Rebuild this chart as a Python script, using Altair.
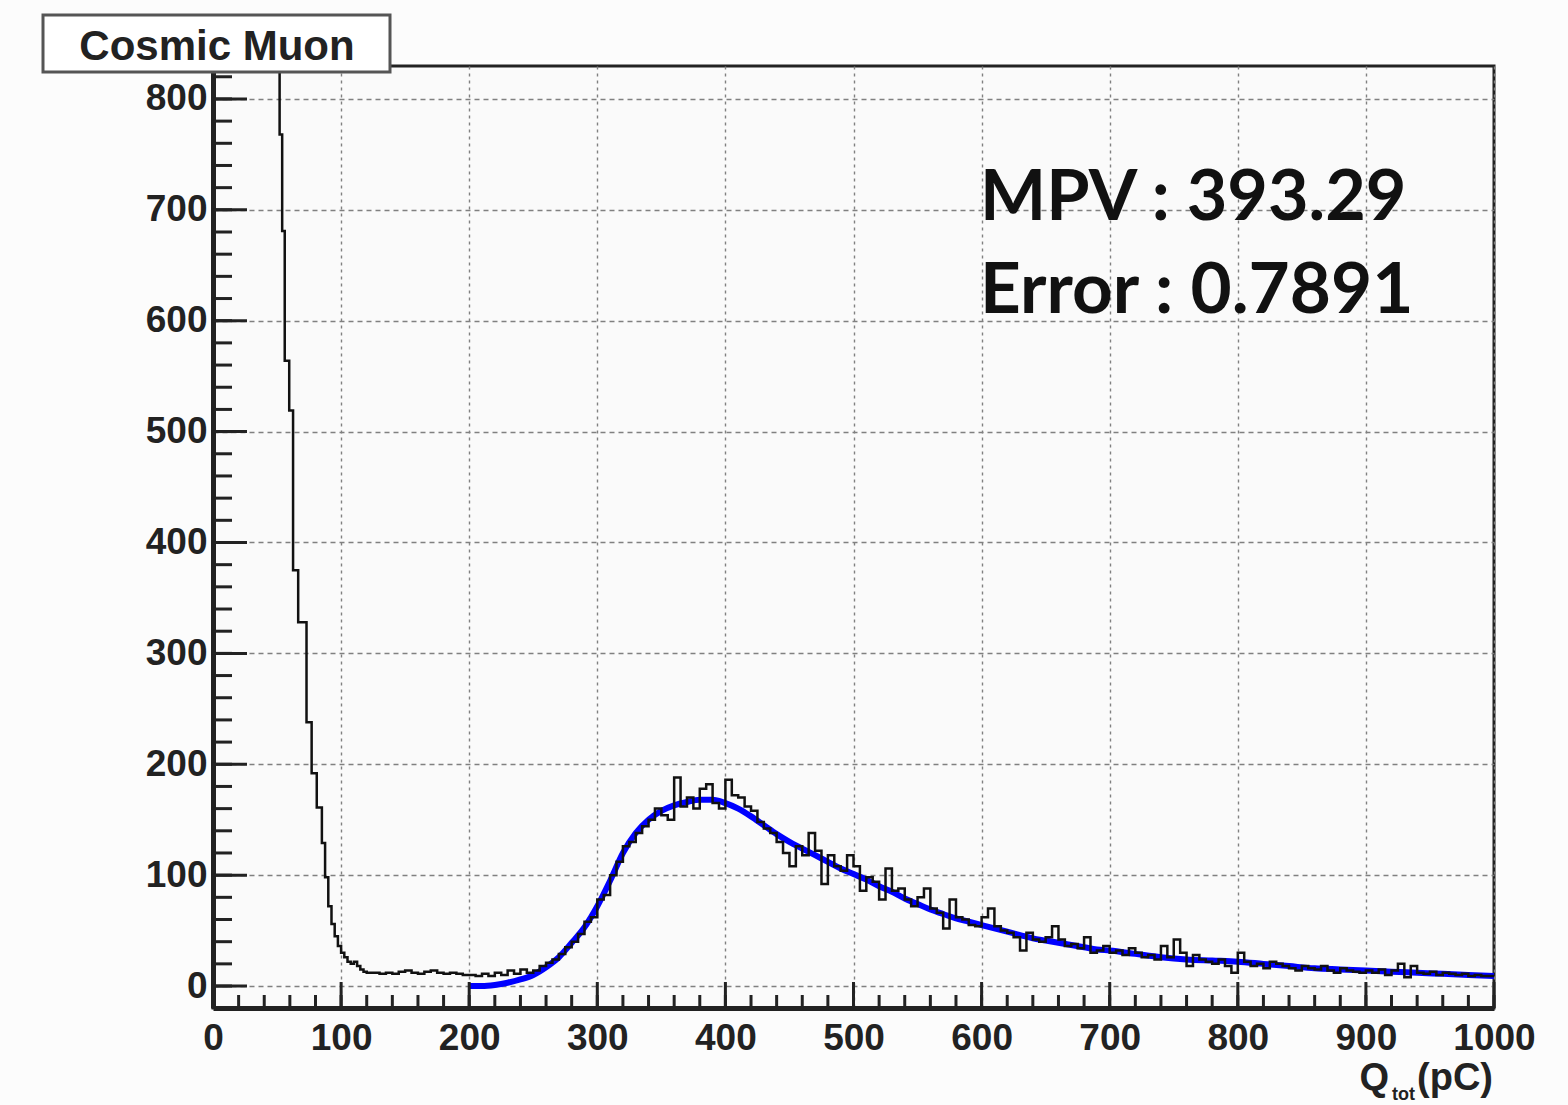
import altair as alt
import pandas as pd

# ---------------- data ----------------
# steep pedestal part of the histogram (bin low edge, count)
STEEP_X = [40, 52, 54, 56, 59.5, 62.5, 66.5, 73, 77, 81, 85, 87.5, 90, 92.5, 95,
           97.5, 100, 102.5, 105, 107.5, 110, 112.5, 115, 117.5, 120]
STEEP_COUNTS = [2000, 768, 681, 564, 519, 375, 328, 238, 192, 161, 129, 98, 72, 56, 45,
                36, 30, 26, 22, 20, 22, 18, 15, 13, 12]

# 5 pC bins from 125 to 1000
BIN_START = 125
BIN_WIDTH = 5
HIST_COUNTS = [
    12, 11, 12, 11, 13, 14, 12, 11, 13, 14,      # 125-170
    12, 11, 12, 11, 10, 10, 9, 11, 9, 12,        # 175-220
    10, 14, 11, 15, 12, 14, 18, 21, 24, 29,      # 225-270
    35, 40, 47, 58, 62, 78, 82, 100, 112, 126,   # 275-320
    130, 138, 144, 150, 160, 154, 150, 188, 162, 170,  # 325-370
    160, 178, 182, 165, 160, 186, 172, 170, 162, 158,  # 375-420
    148, 142, 138, 130, 120, 108, 126, 118, 138, 122,  # 425-470
    92, 118, 108, 104, 118, 108, 86, 98, 94, 78,       # 475-520
    106, 86, 88, 78, 72, 80, 88, 70, 66, 52,           # 525-570
    78, 62, 60, 55, 54, 62, 70, 54, 50, 48,            # 575-620
    44, 32, 48, 42, 40, 44, 54, 42, 36, 38,            # 625-670
    34, 44, 30, 32, 36, 30, 32, 28, 34, 30,            # 675-720
    26, 28, 24, 36, 26, 42, 30, 18, 28, 24,            # 725-770
    22, 20, 24, 18, 12, 30, 22, 18, 20, 16,            # 775-820
    22, 20, 18, 16, 14, 18, 16, 15, 18, 14,            # 825-870
    12, 16, 14, 13, 12, 14, 12, 15, 10, 14,            # 875-920
    20, 8, 18, 12, 11, 13, 10, 12, 11, 10,             # 925-970
    11, 9, 10, 9, 9, 9,                                # 975-1000
]

# Landau fit curve (blue)
FIT_X = [200, 210, 220, 230, 240, 250, 260, 270, 280, 290, 300, 310, 320, 330, 340,
         350, 360, 370, 380, 390, 400, 410, 420, 430, 440, 450, 460, 470, 480, 490,
         500, 510, 520, 530, 540, 550, 560, 570, 580, 590, 600, 610, 620, 630, 640,
         650, 660, 670, 680, 690, 700, 720, 740, 760, 780, 800, 820, 840, 860, 880,
         900, 920, 940, 960, 980, 1000]
FIT_Y = [0, 0, 1, 3, 6, 10, 17, 26, 39, 53, 72, 95, 120, 138, 150,
         158, 163, 166, 168, 168, 165, 160, 153, 145, 137, 130, 124, 118, 112, 106,
         101, 96, 90, 85, 79, 74, 69, 65, 61, 58, 55, 52, 49, 46, 43,
         41, 39, 37, 35, 33, 32, 29, 26, 24, 23, 22, 20, 18, 16, 15,
         14, 13, 12, 11, 10, 9]

X_MAJOR = [0, 100, 200, 300, 400, 500, 600, 700, 800, 900, 1000]
Y_MAJOR = [0, 100, 200, 300, 400, 500, 600, 700, 800]
X_MINOR = list(range(0, 1001, 20))
Y_MINOR = list(range(0, 821, 20))

TITLE = "Cosmic Muon"
MPV_TEXT = "MPV : 393.29"
ERR_TEXT = "Error : 0.7891"

# ---------------- build ----------------
W, H = 1281, 942
hx = STEEP_X + [BIN_START + i * BIN_WIDTH for i in range(len(HIST_COUNTS))]
hy = STEEP_COUNTS + HIST_COUNTS
hist_df = pd.DataFrame({"q": hx, "n": hy})
fit_df = pd.DataFrame({"q": FIT_X, "n": FIT_Y})

xs = alt.Scale(domain=[0, 1000], nice=False, zero=False)
ys = alt.Scale(domain=[-19.8, 829.7], nice=False, zero=False)

LABEL_FONT = "Liberation Sans"

AX_X = alt.Axis(
    values=X_MAJOR, format="d", grid=True, gridDash=[3, 4], gridColor="#808080", gridWidth=1.4,
    ticks=False, domainColor="#222222", domainWidth=5, labelFont=LABEL_FONT,
    labelFontSize=37, labelFontWeight="bold", labelColor="#222222", labelPadding=12,
    labelOverlap=False, labelBound=False, labelFlush=False, title=None)
AX_Y = alt.Axis(
    values=Y_MAJOR, format="d", grid=True, gridDash=[5, 4], gridColor="#808080", gridWidth=1.4,
    ticks=False, domainColor="#222222", domainWidth=5, labelFont=LABEL_FONT,
    labelFontSize=37, labelFontWeight="bold", labelColor="#222222", labelPadding=6,
    labelOverlap=False, labelBound=False, labelFlush=False, title=None)

fit = alt.Chart(fit_df).mark_line(
    interpolate="monotone", color="#0000ff", strokeWidth=6, clip=True
).encode(
    x=alt.X("q:Q", scale=xs, axis=AX_X),
    y=alt.Y("n:Q", scale=ys, axis=AX_Y),
)

hist = alt.Chart(hist_df).mark_line(
    interpolate="step-after", color="#111111", strokeWidth=2.5, clip=True
).encode(
    x=alt.X("q:Q", scale=xs, axis=AX_X),
    y=alt.Y("n:Q", scale=ys, axis=AX_Y),
)

ymaj = alt.Chart(pd.DataFrame({"n": Y_MAJOR})).mark_rule(color="#222222", strokeWidth=3).encode(
    y=alt.Y("n:Q", scale=ys, axis=AX_Y), x=alt.value(0), x2=alt.value(34))
ymin = alt.Chart(pd.DataFrame({"n": Y_MINOR})).mark_rule(color="#222222", strokeWidth=3).encode(
    y=alt.Y("n:Q", scale=ys, axis=AX_Y), x=alt.value(0), x2=alt.value(19))
xmaj = alt.Chart(pd.DataFrame({"q": X_MAJOR})).mark_rule(color="#222222", strokeWidth=3).encode(
    x=alt.X("q:Q", scale=xs, axis=AX_X), y=alt.value(H), y2=alt.value(H - 26))
xmin = alt.Chart(pd.DataFrame({"q": X_MINOR})).mark_rule(color="#222222", strokeWidth=3).encode(
    x=alt.X("q:Q", scale=xs, axis=AX_X), y=alt.value(H), y2=alt.value(H - 13))

one = pd.DataFrame({"k": [0]})
title_box = alt.Chart(one).mark_rect(
    fill="#ffffff", stroke="#555555", strokeWidth=3, clip=False
).encode(x=alt.value(-170), x2=alt.value(177), y=alt.value(-51), y2=alt.value(6))
title_txt = alt.Chart(one).mark_text(
    text=TITLE, font=LABEL_FONT, fontSize=42, fontWeight="bold", color="#222222",
    align="center", baseline="middle", clip=False
).encode(x=alt.value(4), y=alt.value(-19))

mpv = alt.Chart(one).mark_text(
    text=MPV_TEXT, font="Lato", fontSize=70, fontWeight="bold", color="#111111",
    align="left", baseline="alphabetic"
).encode(x=alt.value(767), y=alt.value(154))
err = alt.Chart(one).mark_text(
    text=ERR_TEXT, font="Lato", fontSize=71, fontWeight="bold", color="#111111",
    align="left", baseline="alphabetic"
).encode(x=alt.value(767), y=alt.value(247))

xt_q = alt.Chart(one).mark_text(
    text="Q", font=LABEL_FONT, fontSize=38, fontWeight="bold", color="#222222",
    align="right", baseline="alphabetic", clip=False
).encode(x=alt.value(1176), y=alt.value(1024))
xt_sub = alt.Chart(one).mark_text(
    text="tot", font=LABEL_FONT, fontSize=18, fontWeight="bold", color="#222222",
    align="right", baseline="alphabetic", clip=False
).encode(x=alt.value(1202), y=alt.value(1034))
xt_pc = alt.Chart(one).mark_text(
    text="(pC)", font=LABEL_FONT, fontSize=38, fontWeight="bold", color="#222222",
    align="right", baseline="alphabetic", clip=False
).encode(x=alt.value(1280), y=alt.value(1024))

chart = alt.layer(
    fit, hist, ymaj, ymin, xmaj, xmin, title_box, title_txt, mpv, err, xt_q, xt_sub, xt_pc
).properties(
    width=W, height=H,
    autosize=alt.AutoSizeParams(type="none"),
    padding={"left": 213, "top": 66, "right": 74, "bottom": 97},
    background="#fcfcfc",
).configure_view(
    stroke="#222222", strokeWidth=3, fill="#fafafa"
)

chart.save("out.html", embed_options={"renderer": "svg", "actions": False})
